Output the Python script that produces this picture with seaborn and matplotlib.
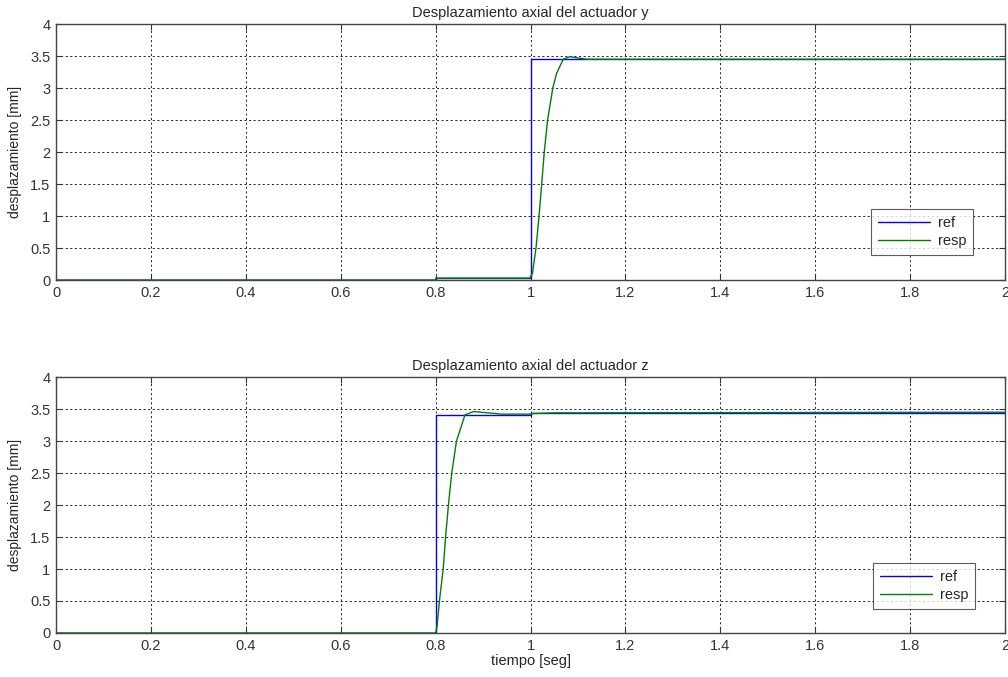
import matplotlib
matplotlib.use('Agg')
import matplotlib.pyplot as plt
import seaborn as sns
import pandas as pd

# actuador y
t_ref_y = [0.0, 0.8, 0.8, 1.0, 1.0, 1.0, 2.0]
ref_y = [0.0, 0.0, 0.03, 0.03, 1.72, 3.45, 3.45]
t_resp_y = [0.0, 0.8, 0.8, 0.998, 1.004, 1.0116, 1.018, 1.0236, 1.029, 1.036,
            1.047, 1.055, 1.069, 1.083, 1.10, 1.119, 2.0]
resp_y = [0.0, 0.0, 0.03, 0.03, 0.1, 0.5, 1.0, 1.5, 2.0, 2.5,
          3.0, 3.23, 3.45, 3.49, 3.47, 3.45, 3.45]

# actuador z
t_ref_z = [0.0, 0.8, 0.8, 1.0, 1.0, 2.0]
ref_z = [0.0, 0.0, 3.41, 3.41, 3.44, 3.44]
t_resp_z = [0.0, 0.8, 0.803, 0.808, 0.816, 0.821, 0.827, 0.834, 0.844, 0.855,
            0.862, 0.88, 0.91, 0.94, 1.0, 1.005, 1.05, 2.0]
resp_z = [0.0, 0.0, 0.1, 0.5, 1.0, 1.5, 2.0, 2.5, 3.0, 3.25,
          3.41, 3.46, 3.44, 3.42, 3.42, 3.43, 3.44, 3.45]

titles = ['Desplazamiento axial del actuador y', 'Desplazamiento axial del actuador z']
series = [(t_ref_y, ref_y, t_resp_y, resp_y), (t_ref_z, ref_z, t_resp_z, resp_z)]

sns.set_style('white')
plt.rcParams['font.family'] = ['Liberation Sans', 'DejaVu Sans']
fs = 10.5

fig = plt.figure(figsize=(10.08, 6.77), dpi=100)
boxes = [[0.0556, 0.5864, 0.9414, 0.3781], [0.0556, 0.065, 0.9414, 0.3781]]
legpos = [(0.966, 0.098), (0.968, 0.094)]

for i in range(2):
    ax = fig.add_axes(boxes[i])
    tr, r, ts, s = series[i]
    d_ref = pd.DataFrame({'t': tr, 'v': r})
    d_resp = pd.DataFrame({'t': ts, 'v': s})
    sns.lineplot(data=d_ref, x='t', y='v', ax=ax, color='#0000ff', lw=1.0,
                 estimator=None, sort=False, label='ref')
    sns.lineplot(data=d_resp, x='t', y='v', ax=ax, color='#008000', lw=1.0,
                 estimator=None, sort=False, label='resp')
    ax.set_xlim(0, 2)
    ax.set_ylim(0, 4)
    ax.set_xticks([0, 0.2, 0.4, 0.6, 0.8, 1, 1.2, 1.4, 1.6, 1.8, 2])
    ax.set_xticklabels(['0', '0.2', '0.4', '0.6', '0.8', '1', '1.2', '1.4', '1.6', '1.8', '2'])
    ax.set_yticks([0, 0.5, 1, 1.5, 2, 2.5, 3, 3.5, 4])
    ax.set_yticklabels(['0', '0.5', '1', '1.5', '2', '2.5', '3', '3.5', '4'])
    ax.grid(True, color='black', linestyle=(0, (2.5, 3)), lw=0.6)
    ax.tick_params(direction='in', length=4, labelsize=fs, colors='#333333',
                   top=True, right=True, bottom=True, left=True, pad=4)
    for sp in ax.spines.values():
        sp.set_color('#444444')
        sp.set_linewidth(1.0)
    ax.set_title(titles[i], fontsize=fs, pad=5)
    ax.set_ylabel('desplazamiento [mm]', fontsize=10, labelpad=6)
    if i == 1:
        ax.set_xlabel('tiempo [seg]', fontsize=fs, labelpad=1)
    else:
        ax.set_xlabel('')
    leg = ax.legend(loc='lower right', bbox_to_anchor=legpos[i], fontsize=fs,
                    frameon=True, fancybox=False, handlelength=3.6,
                    borderpad=0.45, labelspacing=0.3, handletextpad=0.5,
                    borderaxespad=0)
    leg.get_frame().set_edgecolor('#333333')
    leg.get_frame().set_linewidth(0.8)

fig.savefig('out.png', dpi=100)
